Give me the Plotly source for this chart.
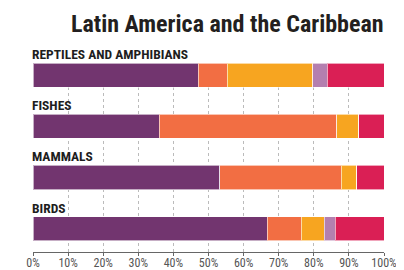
import plotly.graph_objects as go

categories = ["REPTILES AND AMPHIBIANS", "FISHES", "MAMMALS", "BIRDS"]
positions = [3, 2, 1, 0]
series_names = ["S1", "S2", "S3", "S4", "S5"]
colors = ["#72356F", "#F26E43", "#F7A520", "#B47FAF", "#DA1F55"]
# segment sizes (%) per category, in series order
s1 = [47.1, 35.9, 53.2, 66.7]
s2 = [8.3, 50.7, 34.6, 9.7]
s3 = [24.3, 6.2, 4.4, 6.6]
s4 = [4.2, 0.0, 0.0, 3.1]
s5 = [16.1, 7.2, 7.8, 13.9]
series = [s1, s2, s3, s4, s5]
tick_vals = [0, 10, 20, 30, 40, 50, 60, 70, 80, 90, 100]
tick_text = [f"{v}%" for v in tick_vals]
title = "Latin America and the Caribbean"

cond = "Roboto Condensed, DejaVu Sans Condensed, sans-serif"

fig = go.Figure()
for name, vals, col in zip(series_names, series, colors):
    fig.add_trace(go.Bar(
        x=vals, y=positions, orientation="h", name=name,
        marker=dict(color=col, line=dict(color="rgba(255,255,255,0.6)", width=1)),
        width=0.47, hoverinfo="skip",
    ))

for cat, p in zip(categories, positions):
    fig.add_annotation(
        x=0, xref="paper", y=p + 0.235, yref="y",
        text=f"<b>{cat}</b>", showarrow=False,
        xanchor="left", yanchor="middle", yshift=9.0, xshift=-3,
        font=dict(family=cond, size=13.5, color="#1E1E1E"),
    )

fig.add_annotation(
    x=1, xref="paper", y=1, yref="paper",
    text=f"<b>{title}</b>", showarrow=False,
    xanchor="right", yanchor="middle", yshift=39.3, xshift=2,
    font=dict(family=cond, size=24, color="#231F20"),
)

# page adds an 8px body margin, so the figure is 8px smaller and offsets are reduced by 8
fig.update_layout(
    barmode="stack",
    width=396, height=262,
    margin=dict(l=25, r=20, t=55, b=18, autoexpand=False),
    paper_bgcolor="white", plot_bgcolor="white",
    showlegend=False,
    xaxis=dict(
        range=[0, 100], tickvals=tick_vals, ticktext=tick_text,
        showgrid=True, gridcolor="#BBBBBB", griddash="dot", gridwidth=1,
        showline=True, linecolor="#666666", linewidth=1,
        ticks="outside", ticklen=3, tickcolor="#666666",
        ticklabelstandoff=-3,
        tickfont=dict(family=cond, size=12, color="#555555"),
        zeroline=False, fixedrange=True, automargin=False,
    ),
    yaxis=dict(
        range=[-0.455, 3.235], showticklabels=False, showgrid=False,
        zeroline=False, showline=False, fixedrange=True, automargin=False,
    ),
)

fig.write_html("out.html")
